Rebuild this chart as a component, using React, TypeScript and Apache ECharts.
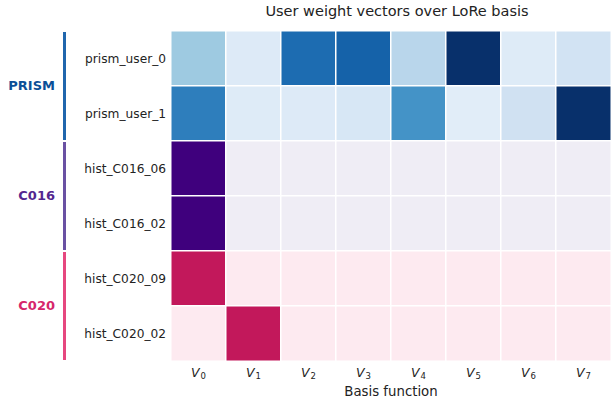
import React, { useEffect, useRef } from "react";
import * as echarts from "echarts";

const basis = ["0", "1", "2", "3", "4", "5", "6", "7"];
const rowNames = ["prism_user_0", "prism_user_1", "hist_C016_06", "hist_C016_02", "hist_C020_09", "hist_C020_02"];

const prismUser0 = [0.375, 0.13, 0.77, 0.81, 0.29, 1.0, 0.125, 0.19];
const prismUser1 = [0.7, 0.125, 0.13, 0.16, 0.62, 0.11, 0.2, 1.0];
const c016_06 = [1, 0, 0, 0, 0, 0, 0, 0];
const c016_02 = [1, 0, 0, 0, 0, 0, 0, 0];
const c020_09 = [1, 0, 0, 0, 0, 0, 0, 0];
const c020_02 = [0, 1, 0, 0, 0, 0, 0, 0];

const blues = ["#f7fbff", "#deebf7", "#c6dbef", "#9ecae1", "#6baed6", "#4292c6", "#2171b5", "#08519c", "#08306b"];
const purples = ["#efedf5", "#dadaeb", "#bcbddc", "#9e9ac8", "#807dba", "#6a51a3", "#54278f", "#3f007d"];
const pinks = ["#fdeaf0", "#c2185b"];

const groups = [
  { name: "PRISM", rows: [0, 1], values: [prismUser0, prismUser1], colors: blues, text: "#0b4f97", bar: "#2066ad" },
  { name: "C016", rows: [2, 3], values: [c016_06, c016_02], colors: purples, text: "#54278f", bar: "#6a51a3" },
  { name: "C020", rows: [4, 5], values: [c020_09, c020_02], colors: pinks, text: "#d6266b", bar: "#e6477f" },
];

export default function App() {
  const ref = useRef<HTMLDivElement>(null);
  useEffect(() => {
    const chart = echarts.init(ref.current!, null, { renderer: "svg" });
    const font = "DejaVu Sans";
    const series = groups.map((g) => {
      const data: number[][] = [];
      g.rows.forEach((r, i) => g.values[i].forEach((v, c) => data.push([c, r, v])));
      return {
        type: "heatmap",
        data,
        itemStyle: { borderColor: "#ffffff", borderWidth: 1.5 },
        emphasis: { disabled: true },
      };
    });
    chart.setOption({
      animation: false,
      backgroundColor: "#ffffff",
      textStyle: { fontFamily: font },
      title: {
        text: "User weight vectors over LoRe basis",
        left: 392,
        textAlign: "center",
        top: -2,
        textStyle: { fontFamily: font, fontSize: 14.5, fontWeight: "normal", color: "#222" },
      },
      grid: { left: 171, top: 31, width: 440, height: 330, outerBoundsMode: "none", containLabel: false },
      xAxis: {
        type: "category",
        data: basis,
        axisLine: { show: false },
        axisTick: { show: false },
        splitLine: { show: false },
        axisLabel: {
          interval: 0,
          margin: 3,
          formatter: (v: string) => `{v|V}{s|${v}}`,
          rich: {
            v: { fontFamily: font, fontSize: 12.5, fontStyle: "italic", color: "#222" },
            s: { fontFamily: font, fontSize: 8.5, color: "#222", padding: [7, 0, 0, 1] },
          },
        },
        name: "Basis function",
        nameLocation: "middle",
        nameGap: 16,
        nameTextStyle: { fontFamily: font, fontSize: 13.3, color: "#222" },
      },
      yAxis: {
        type: "category",
        data: rowNames,
        inverse: true,
        axisLine: { show: false },
        axisTick: { show: false },
        splitLine: { show: false },
        axisLabel: { interval: 0, margin: 5, fontFamily: font, fontSize: 12.2, color: "#222" },
      },
      visualMap: groups.map((g, i) => ({
        type: "continuous",
        show: false,
        seriesIndex: i,
        min: 0,
        max: 1,
        dimension: 2,
        inRange: { color: g.colors },
      })),
      series,
    });
    const top0 = chart.convertToPixel({ gridIndex: 0 }, [0, 0]) as number[];
    const top1 = chart.convertToPixel({ gridIndex: 0 }, [0, 1]) as number[];
    const band = top1[1] - top0[1];
    const graphic: any[] = [];
    groups.forEach((g) => {
      const a = (chart.convertToPixel({ gridIndex: 0 }, [0, g.rows[0]]) as number[])[1] - band / 2;
      const b = (chart.convertToPixel({ gridIndex: 0 }, [0, g.rows[g.rows.length - 1]]) as number[])[1] + band / 2;
      graphic.push({
        type: "rect",
        shape: { x: 63, y: a + 1, width: 3, height: b - a - 2 },
        style: { fill: g.bar },
      });
      graphic.push({
        type: "text",
        x: 55,
        y: (a + b) / 2 - 1,
        style: {
          text: g.name,
          fill: g.text,
          font: `bold 13px "${font}"`,
          textAlign: "right",
          textVerticalAlign: "middle",
        },
      });
    });
    chart.setOption({ graphic });
    return () => chart.dispose();
  }, []);
  return <div ref={ref} style={{ position: "fixed", left: 0, top: 0, width: 611, height: 402 }} />;
}
